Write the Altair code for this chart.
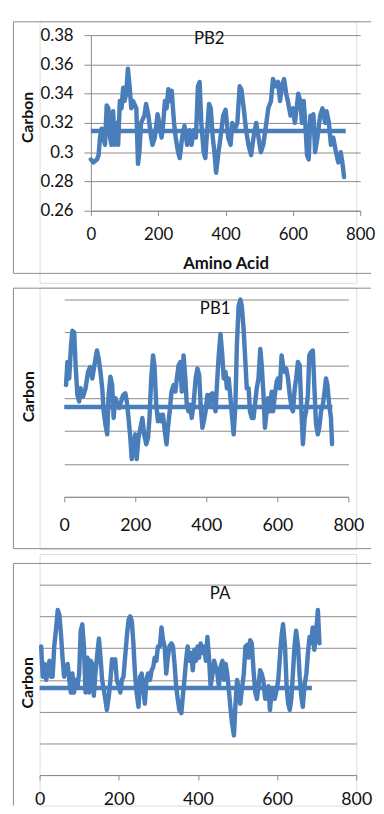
import altair as alt
import pandas as pd

BLUE = "#4a7ebb"
GRID = "#8a8a8a"
BORDER = "#8c8c8c"
FONT = "Lato"

proteins = ["PB2", "PB1", "PA"]
mean_carbon = [0.3145, 0.3146, 0.3149]
mean_end = [757, 755, 688]
x_ticks = [0, 200, 400, 600, 800]
y_ticks = [0.26, 0.28, 0.30, 0.32, 0.34, 0.36, 0.38]

pb2_aa = [0, 8, 18, 23, 27, 32, 37, 42, 47, 52, 57, 61, 66, 71, 76, 81, 86, 91, 96, 100,
          105, 110, 115, 120, 125, 135, 140, 144, 149, 159, 164, 171, 179, 183, 190, 198, 203, 210, 215, 220,
          225, 230, 235, 240, 247, 252, 259, 264, 271, 278, 286, 293, 299, 305, 312, 318, 323, 328, 335, 340,
          344, 351, 356, 362, 367, 372, 379, 385, 393, 400, 408, 415, 420, 427, 435, 442, 447, 454, 461, 468,
          476, 483, 491, 498, 505, 512, 520, 527, 535, 541, 549, 556, 562, 567, 574, 580, 585, 593, 600, 606,
          611, 616, 622, 627, 632, 637, 642, 647, 652, 657, 661, 666, 673, 681, 688, 696, 700, 707, 713, 720,
          728, 735, 742, 747, 752]
pb2_carbon = [0.295, 0.293, 0.295, 0.298, 0.31, 0.316, 0.31, 0.305, 0.332, 0.33,
              0.31, 0.305, 0.328, 0.305, 0.32, 0.305, 0.335, 0.33, 0.344, 0.335,
              0.34, 0.357, 0.345, 0.33, 0.335, 0.33, 0.292, 0.30, 0.32, 0.325,
              0.333, 0.325, 0.31, 0.305, 0.31, 0.326, 0.32, 0.31, 0.32, 0.335,
              0.33, 0.343, 0.335, 0.342, 0.32, 0.31, 0.30, 0.296, 0.31, 0.318,
              0.305, 0.315, 0.305, 0.315, 0.31, 0.345, 0.348, 0.32, 0.30, 0.296,
              0.31, 0.333, 0.33, 0.31, 0.30, 0.286, 0.30, 0.31, 0.325, 0.329,
              0.31, 0.305, 0.32, 0.315, 0.32, 0.345, 0.343, 0.33, 0.315, 0.305,
              0.298, 0.31, 0.32, 0.31, 0.30, 0.305, 0.318, 0.33, 0.335, 0.35,
              0.345, 0.348, 0.335, 0.345, 0.35, 0.34, 0.335, 0.325, 0.33, 0.32,
              0.33, 0.34, 0.335, 0.32, 0.335, 0.32, 0.298, 0.295, 0.325, 0.32,
              0.326, 0.30, 0.31, 0.325, 0.33, 0.32, 0.328, 0.32, 0.305, 0.31,
              0.30, 0.293, 0.30, 0.293, 0.283]

pb1_aa = [5, 9, 14, 19, 23, 28, 32, 37, 42, 46, 53, 60, 67, 73, 79, 85, 92, 97, 102, 107,
          111, 116, 121, 125, 130, 135, 139, 144, 150, 155, 160, 166, 172, 176, 181, 186, 190, 195, 200, 204,
          209, 213, 220, 225, 231, 236, 240, 245, 250, 254, 259, 264, 268, 273, 278, 283, 288, 292, 297, 302,
          308, 313, 317, 322, 327, 331, 336, 341, 345, 350, 354, 359, 364, 370, 375, 380, 384, 389, 393, 398,
          403, 407, 412, 417, 421, 426, 431, 435, 440, 445, 449, 454, 458, 463, 468, 472, 477, 482, 486, 491,
          496, 500, 505, 509, 514, 519, 523, 528, 533, 537, 542, 547, 552, 556, 561, 565, 570, 574, 579, 584,
          588, 593, 598, 602, 607, 612, 616, 621, 625, 630, 635, 640, 644, 649, 653, 658, 663, 667, 672, 677,
          681, 686, 690, 695, 700, 704, 709, 714, 718, 723, 728, 732, 737, 741, 746, 751, 754]
pb1_carbon = [0.328, 0.342, 0.332, 0.352, 0.361, 0.36, 0.34, 0.322, 0.318, 0.326,
              0.321, 0.326, 0.336, 0.339, 0.332, 0.34, 0.349, 0.344, 0.336, 0.326,
              0.312, 0.304, 0.298, 0.322, 0.333, 0.328, 0.308, 0.32, 0.316, 0.314,
              0.318, 0.322, 0.323, 0.318, 0.308, 0.296, 0.283, 0.292, 0.298, 0.283,
              0.296, 0.30, 0.308, 0.298, 0.292, 0.296, 0.308, 0.332, 0.346, 0.34,
              0.316, 0.306, 0.31, 0.306, 0.31, 0.30, 0.292, 0.302, 0.312, 0.324,
              0.328, 0.324, 0.332, 0.34, 0.342, 0.324, 0.346, 0.332, 0.316, 0.312,
              0.316, 0.308, 0.316, 0.332, 0.338, 0.334, 0.316, 0.302, 0.306, 0.312,
              0.322, 0.316, 0.322, 0.323, 0.316, 0.312, 0.332, 0.346, 0.359, 0.346,
              0.332, 0.336, 0.326, 0.332, 0.32, 0.31, 0.298, 0.316, 0.352, 0.376,
              0.38, 0.376, 0.362, 0.346, 0.326, 0.326, 0.312, 0.308, 0.308, 0.316,
              0.326, 0.332, 0.35, 0.34, 0.322, 0.302, 0.312, 0.32, 0.312, 0.324,
              0.312, 0.322, 0.33, 0.332, 0.326, 0.346, 0.34, 0.336, 0.338, 0.332,
              0.322, 0.314, 0.312, 0.326, 0.332, 0.342, 0.34, 0.316, 0.292, 0.308,
              0.312, 0.322, 0.346, 0.348, 0.349, 0.328, 0.304, 0.298, 0.302, 0.312,
              0.316, 0.322, 0.332, 0.328, 0.316, 0.308, 0.292]

pa_aa = [4, 8, 12, 17, 21, 25, 29, 33, 37, 42, 46, 50, 54, 58, 62, 67, 71, 75, 79, 83,
         87, 91, 96, 100, 104, 108, 112, 116, 121, 125, 129, 133, 137, 141, 146, 150, 154, 158, 162, 166,
         170, 175, 179, 183, 187, 191, 195, 200, 204, 208, 212, 216, 221, 225, 229, 233, 237, 241, 245, 250,
         254, 258, 262, 266, 270, 274, 279, 283, 287, 291, 295, 299, 304, 308, 312, 316, 320, 324, 328, 333,
         337, 341, 345, 349, 353, 358, 362, 366, 370, 374, 378, 383, 387, 391, 395, 399, 403, 407, 412, 416,
         420, 424, 428, 432, 437, 441, 445, 449, 453, 457, 462, 466, 470, 474, 478, 482, 486, 491, 495, 499,
         503, 507, 511, 516, 520, 524, 528, 532, 536, 541, 545, 549, 553, 557, 561, 565, 570, 574, 578, 582,
         586, 590, 594, 599, 603, 607, 611, 615, 620, 624, 628, 632, 636, 640, 644, 648, 653, 657, 661, 665,
         669, 674, 678, 682, 686, 690, 694, 699, 703, 707]
pa_carbon = [0.341, 0.322, 0.33, 0.32, 0.328, 0.332, 0.322, 0.322, 0.341, 0.353,
             0.364, 0.361, 0.349, 0.334, 0.322, 0.328, 0.33, 0.32, 0.312, 0.324,
             0.312, 0.32, 0.316, 0.324, 0.351, 0.355, 0.341, 0.312, 0.334, 0.312,
             0.332, 0.33, 0.31, 0.324, 0.337, 0.346, 0.334, 0.32, 0.314, 0.308,
             0.301, 0.31, 0.32, 0.333, 0.328, 0.333, 0.32, 0.316, 0.312, 0.32,
             0.322, 0.334, 0.349, 0.358, 0.36, 0.357, 0.343, 0.324, 0.312, 0.303,
             0.322, 0.324, 0.314, 0.305, 0.32, 0.324, 0.32, 0.326, 0.328, 0.334,
             0.332, 0.341, 0.341, 0.353, 0.345, 0.341, 0.324, 0.334, 0.341, 0.343,
             0.341, 0.33, 0.316, 0.308, 0.301, 0.299, 0.31, 0.32, 0.332, 0.341,
             0.332, 0.337, 0.326, 0.339, 0.332, 0.341, 0.334, 0.343, 0.337, 0.341,
             0.332, 0.347, 0.334, 0.316, 0.324, 0.332, 0.328, 0.324, 0.316, 0.328,
             0.332, 0.32, 0.33, 0.324, 0.314, 0.303, 0.293, 0.285, 0.305, 0.32,
             0.314, 0.305, 0.314, 0.324, 0.341, 0.342, 0.334, 0.345, 0.343, 0.324,
             0.312, 0.308, 0.316, 0.326, 0.324, 0.32, 0.308, 0.312, 0.316, 0.301,
             0.312, 0.314, 0.308, 0.314, 0.32, 0.334, 0.347, 0.355, 0.341, 0.316,
             0.305, 0.301, 0.308, 0.324, 0.341, 0.351, 0.341, 0.322, 0.31, 0.303,
             0.316, 0.324, 0.337, 0.347, 0.343, 0.353, 0.339, 0.351, 0.364, 0.343]

series = [(pb2_aa, pb2_carbon), (pb1_aa, pb1_carbon), (pa_aa, pa_carbon)]

# Every panel is a group whose origin is the PA plot's left edge (x) and the
# panel's slot top (y); the plot rectangle sits inside via the scale ranges.
GROUP_W = 321
layout = [
    dict(H=265, xr=[52, 325], yr=[192, 14], yoff=-52, top=0.5, bottom=255.5,
         fs=17, lp=11, ytx=-64, yty=97, tx=172, ty=18, ylabels=True,
         xtitle="Amino Acid"),
    dict(H=265, xr=[25, 313], yr=[212, 12], yoff=-25, top=0.5, bottom=264.5,
         fs=18, lp=15, ytx=-36, yty=110, tx=178, ty=22, ylabels=False, xtitle=None),
    dict(H=255, xr=[0, 321], yr=[224, 31], yoff=0, top=9.5, bottom=None,
         fs=18, lp=11, ytx=-12, yty=130, tx=183, ty=41, ylabels=False, xtitle=None),
]
LEFT = -26.5
RIGHT = 336


def one_row():
    return pd.DataFrame({"k": [0]})


def panel(i):
    aa, carbon = series[i]
    L = layout[i]
    df = pd.DataFrame({"aa": aa, "carbon": carbon})
    xs = alt.Scale(domain=[0, 800], range=L["xr"], nice=False, zero=False)
    ys = alt.Scale(domain=[0.26, 0.38], range=L["yr"], nice=False, zero=False)
    xoff = L["yr"][0] - L["H"]

    xaxis_kw = dict(values=x_ticks, tickCount=len(x_ticks), grid=False, tickSize=5,
                    tickColor=GRID, domainColor=GRID, labelFontSize=L["fs"],
                    labelPadding=L["lp"], labelColor="#111111", labelFont=FONT,
                    labelOverlap=False, labelFlush=False, offset=xoff)
    if L["xtitle"]:
        xaxis = alt.Axis(title=L["xtitle"], titleFontSize=17, titleFontWeight="bold",
                         titleFont=FONT, titleColor="#111111", titleY=54,
                         titleBaseline="middle", **xaxis_kw)
    else:
        xaxis = alt.Axis(title=None, **xaxis_kw)

    yaxis_kw = dict(values=y_ticks, tickCount=len(y_ticks), gridColor=GRID,
                    gridWidth=1, title="Carbon", titleFontSize=16,
                    titleFontWeight="bold", titleFont=FONT, titleColor="#111111",
                    titleX=L["ytx"], titleY=L["yty"], titleBaseline="middle",
                    titleAlign="center", labelOverlap=False, offset=L["yoff"])
    if L["ylabels"]:
        yaxis = alt.Axis(format=".2~f", labelFontSize=17, labelFont=FONT,
                         labelColor="#111111", tickSize=7, tickColor=GRID,
                         domainColor=GRID, labelPadding=11, labelFlush=False,
                         **yaxis_kw)
    else:
        yaxis = alt.Axis(labels=False, ticks=False, domain=False, **yaxis_kw)

    line = alt.Chart(df).mark_line(color=BLUE, strokeWidth=4.5, strokeJoin="round",
                                   strokeCap="round").encode(
        x=alt.X("aa:Q", scale=xs, axis=xaxis),
        y=alt.Y("carbon:Q", scale=ys, axis=yaxis),
    )
    mean_df = pd.DataFrame({"x0": [0], "x1": [mean_end[i]], "m": [mean_carbon[i]]})
    mean = alt.Chart(mean_df).mark_rule(color=BLUE, strokeWidth=4.5).encode(
        x=alt.X("x0:Q", scale=xs), x2="x1:Q", y=alt.Y("m:Q", scale=ys))
    label = alt.Chart(pd.DataFrame({"name": [proteins[i]]})).mark_text(
        font=FONT, fontSize=17, color="#111111", align="center", baseline="middle"
    ).encode(x=alt.value(L["tx"]), y=alt.value(L["ty"]), text="name:N")

    bottom = L["bottom"] if L["bottom"] is not None else L["H"]
    borders = [
        alt.Chart(one_row()).mark_rule(color=BORDER, strokeWidth=1).encode(
            x=alt.value(LEFT), x2=alt.value(RIGHT), y=alt.value(L["top"])),
        alt.Chart(one_row()).mark_rule(color=BORDER, strokeWidth=1).encode(
            x=alt.value(LEFT), y=alt.value(L["top"]), y2=alt.value(bottom)),
    ]
    if L["bottom"] is not None:
        borders.append(alt.Chart(one_row()).mark_rule(color=BORDER, strokeWidth=1).encode(
            x=alt.value(LEFT), x2=alt.value(RIGHT), y=alt.value(L["bottom"])))

    return alt.layer(line, mean, label, *borders).properties(width=GROUP_W, height=L["H"])


chart = alt.vconcat(panel(0), panel(1), panel(2), spacing=3).properties(
    padding={"left": 4, "top": 7, "right": 0, "bottom": 0}
).configure_view(stroke=None).configure(font=FONT)

chart.save("out.html", embed_options={"renderer": "svg", "actions": False})
